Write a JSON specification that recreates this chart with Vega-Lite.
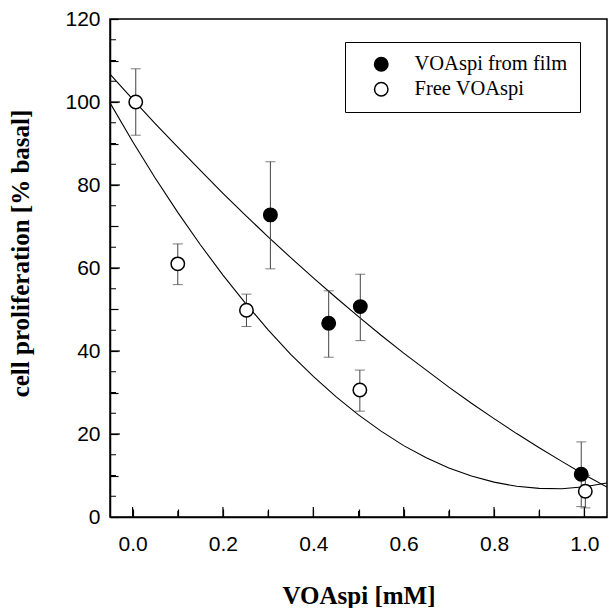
{
  "$schema": "https://vega.github.io/schema/vega-lite/v6.json",
  "autosize": "none",
  "width": 497,
  "height": 498,
  "padding": {"left": 110, "top": 19, "right": 1, "bottom": 91},
  "background": "white",
  "config": {
    "view": {"stroke": "black", "strokeWidth": 1.5},
    "axis": {
      "domainColor": "black",
      "domainWidth": 1.5,
      "ticks": true,
      "tickColor": "black",
      "tickWidth": 1.2,
      "labelFont": "Liberation Sans",
      "labelFontSize": 21,
      "labelColor": "black",
      "titleFont": "Liberation Serif",
      "titleFontWeight": "bold",
      "titleFontSize": 25,
      "titleColor": "black",
      "grid": false
    }
  },
  "datasets": {
    "points": [
      {"x": 0.305, "y": 72.8, "lo": 59.8, "hi": 85.6, "series": "VOAspi from film"},
      {"x": 0.434, "y": 46.7, "lo": 38.5, "hi": 54.5, "series": "VOAspi from film"},
      {"x": 0.504, "y": 50.7, "lo": 42.5, "hi": 58.5, "series": "VOAspi from film"},
      {"x": 0.993, "y": 10.3, "lo": 2.5, "hi": 18.1, "series": "VOAspi from film"},
      {"x": 0.007, "y": 100.0, "lo": 92.0, "hi": 108.0, "series": "Free VOAspi"},
      {"x": 0.1, "y": 61.0, "lo": 56.0, "hi": 65.8, "series": "Free VOAspi"},
      {"x": 0.252, "y": 49.8, "lo": 45.9, "hi": 53.7, "series": "Free VOAspi"},
      {"x": 0.503, "y": 30.6, "lo": 25.5, "hi": 35.4, "series": "Free VOAspi"},
      {"x": 1.002, "y": 6.2, "lo": 2.2, "hi": 10.0, "series": "Free VOAspi"}
    ],
    "yMajor": [{"v": 20}, {"v": 40}, {"v": 60}, {"v": 80}, {"v": 100}],
    "yMinor": [{"v": 5}, {"v": 10}, {"v": 15}, {"v": 25}, {"v": 30}, {"v": 35}, {"v": 45}, {"v": 50}, {"v": 55}, {"v": 65}, {"v": 70}, {"v": 75}, {"v": 85}, {"v": 90}, {"v": 95}, {"v": 105}, {"v": 110}, {"v": 115}],
    "xMajor": [{"v": 0}, {"v": 0.2}, {"v": 0.4}, {"v": 0.6}, {"v": 0.8}, {"v": 1.0}],
    "xMinor": [{"v": 0.1}, {"v": 0.3}, {"v": 0.5}, {"v": 0.7}, {"v": 0.9}],
    "curves": [
      {"x": -0.05, "y": 106.7, "series": "film"},
      {"x": 0.0, "y": 100.7, "series": "film"},
      {"x": 0.05, "y": 94.8, "series": "film"},
      {"x": 0.1, "y": 89.1, "series": "film"},
      {"x": 0.15, "y": 83.5, "series": "film"},
      {"x": 0.2, "y": 78.0, "series": "film"},
      {"x": 0.25, "y": 72.7, "series": "film"},
      {"x": 0.3, "y": 67.5, "series": "film"},
      {"x": 0.35, "y": 62.5, "series": "film"},
      {"x": 0.4, "y": 57.6, "series": "film"},
      {"x": 0.45, "y": 52.9, "series": "film"},
      {"x": 0.5, "y": 48.3, "series": "film"},
      {"x": 0.55, "y": 43.8, "series": "film"},
      {"x": 0.6, "y": 39.5, "series": "film"},
      {"x": 0.65, "y": 35.4, "series": "film"},
      {"x": 0.7, "y": 31.3, "series": "film"},
      {"x": 0.75, "y": 27.4, "series": "film"},
      {"x": 0.8, "y": 23.7, "series": "film"},
      {"x": 0.85, "y": 20.1, "series": "film"},
      {"x": 0.9, "y": 16.7, "series": "film"},
      {"x": 0.95, "y": 13.4, "series": "film"},
      {"x": 1.0, "y": 10.2, "series": "film"},
      {"x": 1.05, "y": 7.2, "series": "film"},
      {"x": -0.05, "y": 99.8, "series": "free"},
      {"x": 0.0, "y": 90.5, "series": "free"},
      {"x": 0.05, "y": 81.7, "series": "free"},
      {"x": 0.1, "y": 73.4, "series": "free"},
      {"x": 0.15, "y": 65.6, "series": "free"},
      {"x": 0.2, "y": 58.3, "series": "free"},
      {"x": 0.25, "y": 51.5, "series": "free"},
      {"x": 0.3, "y": 45.1, "series": "free"},
      {"x": 0.35, "y": 39.2, "series": "free"},
      {"x": 0.4, "y": 33.9, "series": "free"},
      {"x": 0.45, "y": 29.0, "series": "free"},
      {"x": 0.5, "y": 24.6, "series": "free"},
      {"x": 0.55, "y": 20.7, "series": "free"},
      {"x": 0.6, "y": 17.2, "series": "free"},
      {"x": 0.65, "y": 14.3, "series": "free"},
      {"x": 0.7, "y": 11.8, "series": "free"},
      {"x": 0.75, "y": 9.9, "series": "free"},
      {"x": 0.8, "y": 8.4, "series": "free"},
      {"x": 0.85, "y": 7.4, "series": "free"},
      {"x": 0.9, "y": 6.9, "series": "free"},
      {"x": 0.95, "y": 6.8, "series": "free"},
      {"x": 1.0, "y": 7.3, "series": "free"},
      {"x": 1.05, "y": 8.2, "series": "free"}
    ]
  },
  "layer": [
    {
      "data": {"name": "curves"},
      "mark": {"type": "line", "color": "black", "strokeWidth": 1.1, "clip": true},
      "encoding": {
        "x": {"field": "x", "type": "quantitative", "title": "VOAspi [mM]", "scale": {"domain": [-0.05, 1.05], "nice": false, "zero": false},
          "axis": {
            "values": [0, 0.1, 0.2, 0.3, 0.4, 0.5, 0.6, 0.7, 0.8, 0.9, 1.0],
            "format": ".1f",
            "labelExpr": "round(datum.value*10) % 2 === 0 ? datum.label : ''",
            "tickSize": -8,
            "labelBaseline": "alphabetic",
            "labelPadding": 41,
            "titleBaseline": "alphabetic",
            "titleY": 86
          }},
        "y": {"field": "y", "type": "quantitative", "title": "cell proliferation [% basal]", "scale": {"domain": [0, 120], "nice": false, "zero": false},
          "axis": {
            "values": [0, 5, 10, 15, 20, 25, 30, 35, 40, 45, 50, 55, 60, 65, 70, 75, 80, 85, 90, 95, 100, 105, 110, 115, 120],
            "labelExpr": "datum.value % 20 === 0 ? datum.label : ''",
            "tickSize": -8,
            "labelPadding": 18,
            "titleBaseline": "alphabetic",
            "titleX": -82,
            "titleY": 234
          }},
        "detail": {"field": "series", "type": "nominal"}
      }
    },
    {
      "data": {"name": "yMajor"},
      "mark": {"type": "rule", "color": "black", "strokeWidth": 1.2, "x2Offset": 10},
      "encoding": {
        "y": {"field": "v", "type": "quantitative", "title": "cell proliferation [% basal]"},
        "x": {"datum": -0.05, "type": "quantitative", "title": "VOAspi [mM]"},
        "x2": {"datum": -0.05}
      }
    },
    {
      "data": {"name": "yMinor"},
      "mark": {"type": "rule", "color": "black", "strokeWidth": 1, "x2Offset": 6},
      "encoding": {
        "y": {"field": "v", "type": "quantitative", "title": "cell proliferation [% basal]"},
        "x": {"datum": -0.05, "type": "quantitative", "title": "VOAspi [mM]"},
        "x2": {"datum": -0.05}
      }
    },
    {
      "data": {"name": "xMajor"},
      "mark": {"type": "rule", "color": "black", "strokeWidth": 1.2, "y2Offset": -10},
      "encoding": {
        "x": {"field": "v", "type": "quantitative", "title": "VOAspi [mM]"},
        "y": {"datum": 0, "type": "quantitative", "title": "cell proliferation [% basal]"},
        "y2": {"datum": 0}
      }
    },
    {
      "data": {"name": "xMinor"},
      "mark": {"type": "rule", "color": "black", "strokeWidth": 1, "y2Offset": -6},
      "encoding": {
        "x": {"field": "v", "type": "quantitative", "title": "VOAspi [mM]"},
        "y": {"datum": 0, "type": "quantitative", "title": "cell proliferation [% basal]"},
        "y2": {"datum": 0}
      }
    },
    {
      "data": {"name": "points"},
      "mark": {"type": "errorbar", "ticks": {"size": 10}, "color": "#444444", "thickness": 1},
      "encoding": {
        "x": {"field": "x", "type": "quantitative", "title": "VOAspi [mM]"},
        "y": {"field": "lo", "type": "quantitative", "title": "cell proliferation [% basal]"},
        "y2": {"field": "hi"}
      }
    },
    {
      "data": {"name": "points"},
      "mark": {"type": "point", "shape": "circle", "filled": true, "stroke": "black", "strokeWidth": 1.5, "size": 180, "opacity": 1},
      "encoding": {
        "x": {"field": "x", "type": "quantitative", "title": "VOAspi [mM]"},
        "y": {"field": "y", "type": "quantitative", "title": "cell proliferation [% basal]"},
        "fill": {"field": "series", "type": "nominal",
          "scale": {"domain": ["VOAspi from film", "Free VOAspi"], "range": ["black", "white"]},
          "legend": {
            "title": null,
            "orient": "none",
            "legendX": 235,
            "legendY": 23,
            "padding": 12,
            "strokeColor": "black",
            "fillColor": "white",
            "symbolType": "circle",
            "symbolSize": 180,
            "symbolStrokeColor": "black",
            "symbolStrokeWidth": 1.5,
            "symbolOffset": 14,
            "labelOffset": 23,
            "labelFont": "Liberation Serif",
            "labelFontSize": 20.5,
            "labelColor": "black",
            "labelLimit": 300,
            "rowPadding": 4
          }}
      }
    }
  ]
}
